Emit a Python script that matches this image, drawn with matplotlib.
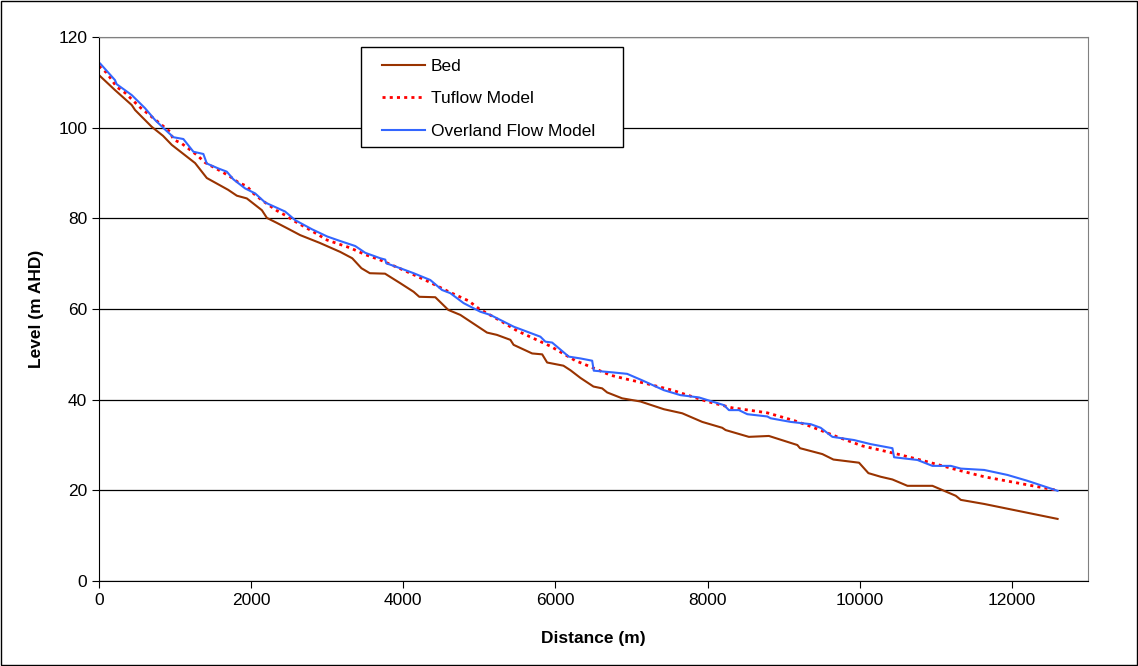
import matplotlib
matplotlib.use("Agg")
import matplotlib.pyplot as plt
from matplotlib.patches import Rectangle

plt.rcParams["font.family"] = ["Liberation Sans", "DejaVu Sans"]

# Bed profile (distance m, level m AHD)
bed_x = [0, 13, 210, 430, 474, 693, 842, 957, 1263, 1417, 1697, 1812, 1943, 2141, 2207,
         2338, 2487, 2645, 2900, 3171, 3329, 3450, 3560, 3760, 3960, 4136, 4210, 4421,
         4592, 4750, 5101, 5230, 5408, 5450, 5694, 5826, 5891, 6105, 6197, 6329, 6500,
         6614, 6680, 6877, 7118, 7425, 7667, 7930, 8193, 8237, 8543, 8806, 9180, 9215,
         9509, 9654, 9991, 10114, 10276, 10430, 10627, 10956, 11263, 11329, 11636, 12601]
bed_y = [111.6, 111.4, 108.3, 105.0, 103.9, 100.2, 98.2, 96.2, 92.2, 88.9, 86.3, 85.0,
         84.4, 81.8, 80.1, 79.0, 77.7, 76.3, 74.6, 72.6, 71.2, 69.0, 67.9, 67.8, 65.7,
         63.8, 62.7, 62.6, 59.8, 58.7, 54.8, 54.3, 53.2, 52.1, 50.2, 50.0, 48.2, 47.5,
         46.5, 44.8, 42.9, 42.5, 41.6, 40.3, 39.6, 37.9, 37.0, 35.1, 33.8, 33.3, 31.8,
         32.0, 30.0, 29.3, 28.0, 26.8, 26.1, 23.8, 23.0, 22.4, 21.0, 21.0, 18.8, 17.9,
         17.0, 13.7]

# Tuflow model water level
tuflow_x = [0, 101, 232, 342, 539, 934, 978, 1088, 1175, 1285, 1395, 1504, 1614, 1724,
            1833, 1943, 2030, 2141, 2338, 2447, 2579, 2800, 3000, 3300, 3500, 3700, 4000,
            4300, 4600, 4859, 5000, 5298, 5496, 5934, 6263, 6368, 6724, 6943, 7184, 7535,
            7996, 8325, 8543, 8785, 9136, 9355, 9706, 10035, 10496, 10846, 11285, 11636,
            11987, 12338, 12600]
tuflow_y = [113.6, 112.1, 109.0, 107.7, 104.5, 99.1, 97.4, 96.5, 95.4, 94.0, 92.3, 91.3,
            90.3, 89.2, 87.9, 87.1, 85.5, 84.0, 81.7, 80.7, 79.3, 77.2, 75.2, 73.5, 72.0,
            70.8, 68.6, 66.3, 63.8, 61.8, 60.0, 57.2, 55.2, 51.8, 48.6, 47.9, 45.4, 44.5,
            43.6, 42.1, 39.6, 38.2, 37.7, 37.1, 35.4, 34.1, 31.8, 29.8, 28.0, 26.5, 24.5,
            23.0, 21.9, 20.8, 20.0]

# Overland flow model water level
overland_x = [0, 13, 210, 232, 430, 605, 737, 868, 978, 1109, 1241, 1372, 1417, 1570,
              1680, 1767, 1921, 2053, 2184, 2447, 2579, 2799, 3000, 3171, 3368, 3500,
              3697, 3763, 3776, 3960, 4136, 4355, 4509, 4618, 4793, 5013, 5145, 5452,
              5627, 5802, 5868, 5957, 6175, 6329, 6483, 6504, 6767, 6943, 7150, 7425,
              7644, 7886, 8215, 8281, 8412, 8522, 8785, 8829, 9092, 9355, 9487, 9641,
              9925, 10144, 10430, 10452, 10759, 10956, 11197, 11329, 11636, 11942,
              12206, 12601]
overland_y = [114.3, 114.2, 110.5, 109.6, 107.2, 104.3, 101.7, 99.6, 97.9, 97.5, 94.7,
              94.2, 92.1, 91.0, 90.3, 88.6, 86.6, 85.5, 83.5, 81.5, 79.6, 77.6, 76.0,
              75.0, 73.9, 72.4, 71.2, 70.9, 70.1, 69.0, 67.9, 66.4, 64.2, 63.5, 61.3,
              59.4, 58.7, 56.1, 55.0, 53.9, 52.8, 52.6, 49.5, 49.1, 48.6, 46.4, 46.0,
              45.7, 44.2, 42.1, 41.0, 40.5, 38.8, 37.7, 37.7, 36.8, 36.3, 35.9, 35.1,
              34.6, 33.8, 31.8, 31.1, 30.2, 29.3, 27.3, 26.7, 25.4, 25.4, 24.8, 24.5,
              23.4, 22.1, 19.9]

fig = plt.figure(figsize=(11.38, 6.66), dpi=100)
ax = fig.add_axes([0.087, 0.1276, 0.869, 0.8168])

ax.plot(bed_x, bed_y, color="#993300", lw=1.5, label="Bed")
ax.plot(tuflow_x, tuflow_y, color="#ff0000", lw=2.0, linestyle=(0, (1.1, 1.5)),
        label="Tuflow Model")
ax.plot(overland_x, overland_y, color="#3366ff", lw=1.5, label="Overland Flow Model")

ax.set_xlim(0, 13000)
ax.set_ylim(0, 120)
ax.set_xticks(range(0, 13000, 2000))
ax.set_yticks(range(0, 121, 20))
ax.yaxis.grid(True, color="black", lw=0.9)
ax.set_axisbelow(True)
ax.tick_params(direction="out", length=5, labelsize=12.5, colors="black")
for side in ("top", "right"):
    ax.spines[side].set_color("#808080")
for side in ("left", "bottom"):
    ax.spines[side].set_color("black")

ax.set_xlabel("Distance (m)", fontsize=12.5, fontweight="bold", labelpad=17)
ax.set_ylabel("Level (m AHD)", fontsize=12.5, fontweight="bold", labelpad=10)

# legend box is wider than tall padding, so draw its frame separately
ax.add_patch(Rectangle((0.3172, 0.7793), 0.2302, 0.1502, transform=fig.transFigure,
                       facecolor="white", edgecolor="black", lw=1.0, zorder=4,
                       clip_on=False))
leg = ax.legend(loc="upper left", bbox_to_anchor=(0.3357, 0.912),
                bbox_transform=fig.transFigure, frameon=False, fontsize=12.5,
                handlelength=2.5, handletextpad=0.3, labelspacing=1.0,
                borderpad=0, borderaxespad=0)
leg.set_zorder(5)

# border around the whole chart area
fig.patches.append(Rectangle((0.001, 0.0015), 0.998, 0.997, transform=fig.transFigure,
                             fill=False, edgecolor="black", lw=1.0))

fig.savefig("out.png", dpi=100)
